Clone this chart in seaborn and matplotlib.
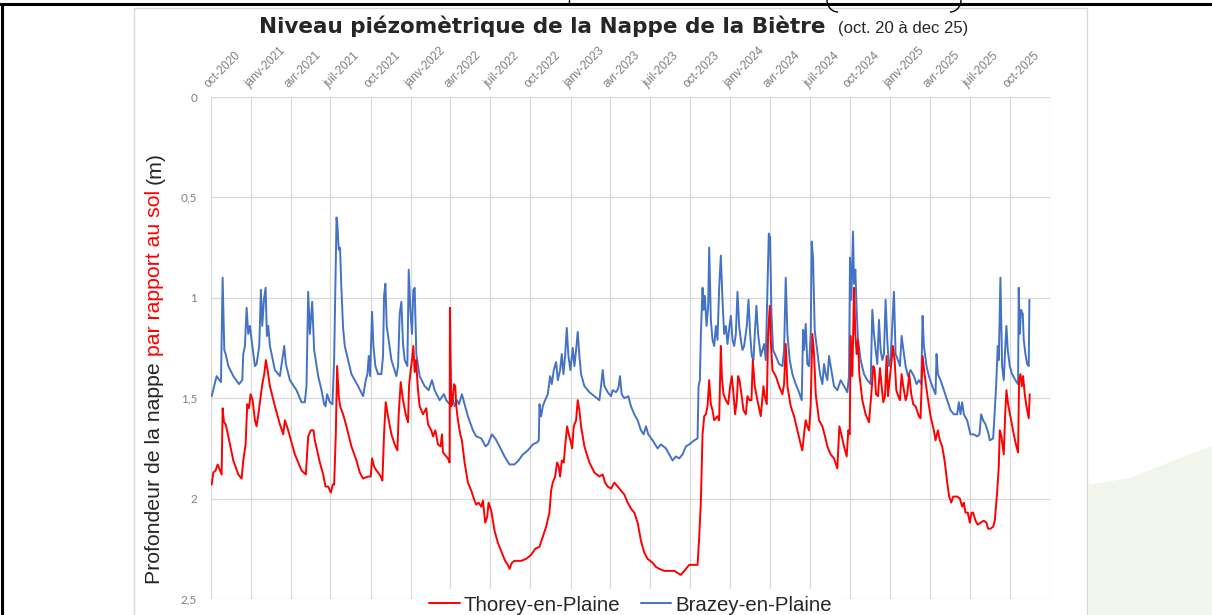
import numpy as np
import pandas as pd
import matplotlib
matplotlib.use("Agg")
import matplotlib.pyplot as plt
import matplotlib.patches as mpatches
from matplotlib.lines import Line2D
import seaborn as sns

# jours depuis le 1er oct. 2020, profondeur (m)
debut = "2020-10-01"

jours_thorey = [
    1.5, 5.3, 10.6, 15.2, 20.5, 24.3, 26.6, 29.7, 33.5, 39.6,
    51.0, 62.4, 70.0, 73.8, 79.1, 82.9, 86.7, 90.5, 95.1, 100.4,
    104.2, 109.5, 114.1, 117.2, 121.7, 125.5, 129.3, 134.7, 146.1, 157.5,
    165.1, 168.9, 176.5, 191.7, 207.0, 216.8, 222.2, 228.2, 234.3, 237.4,
    248.8, 256.4, 261.7, 267.8, 273.9, 278.5, 281.5, 285.3, 288.3, 292.1,
    295.2, 302.0, 309.6, 321.0, 332.5, 340.1, 347.7, 359.1, 365.2, 368.2,
    372.8, 378.1, 381.9, 388.0, 391.8, 395.6, 399.4, 404.7, 412.4, 420.0,
    426.1, 429.1, 433.7, 439.0, 445.1, 450.4, 452.7, 456.5, 459.5, 462.6,
    465.6, 468.7, 473.2, 477.0, 484.6, 492.2, 496.0, 503.6, 507.4, 512.8,
    518.9, 524.9, 528.0, 530.3, 534.1, 541.7, 545.5, 546.2, 549.3, 552.3,
    555.4, 558.4, 560.7, 564.5, 569.8, 573.6, 579.7, 587.3, 594.9, 602.5,
    606.3, 611.7, 617.8, 621.6, 626.9, 631.5, 634.5, 640.6, 648.2, 655.8,
    664.9, 672.5, 678.6, 682.4, 687.8, 693.8, 701.4, 709.1, 720.5, 731.9,
    741.0, 750.9, 758.5, 766.1, 773.7, 777.5, 781.3, 786.7, 791.2, 795.0,
    798.1, 801.9, 806.4, 809.5, 814.1, 817.9, 821.7, 825.5, 829.3, 834.6,
    838.4, 842.2, 846.0, 853.6, 865.0, 876.4, 887.9, 895.5, 900.8, 906.9,
    914.5, 922.1, 929.7, 937.3, 944.9, 952.5, 960.1, 967.7, 975.3, 982.9,
    990.5, 998.2, 1009.6, 1017.2, 1024.8, 1036.2, 1047.6, 1059.0, 1066.6, 1074.2,
    1081.8, 1093.3, 1104.7, 1112.3, 1116.1, 1119.9, 1123.7, 1127.5, 1131.3, 1135.1,
    1138.9, 1142.7, 1146.5, 1150.3, 1157.9, 1161.7, 1165.5, 1167.8, 1171.6, 1177.0,
    1182.3, 1186.8, 1190.6, 1193.7, 1198.2, 1202.0, 1205.1, 1208.1, 1212.7, 1217.3,
    1222.6, 1226.4, 1231.0, 1235.5, 1238.6, 1243.1, 1249.2, 1256.8, 1262.9, 1266.0,
    1270.5, 1273.6, 1277.4, 1279.7, 1283.5, 1291.1, 1298.7, 1306.3, 1310.1, 1313.9,
    1317.7, 1325.3, 1332.9, 1340.5, 1348.1, 1351.9, 1355.7, 1359.5, 1363.3, 1367.2,
    1371.0, 1374.8, 1378.6, 1382.4, 1390.0, 1397.6, 1403.7, 1409.0, 1416.6, 1424.2,
    1431.8, 1436.5, 1441.0, 1447.1, 1453.2, 1457.0, 1460.1, 1462.3, 1466.1, 1470.0,
    1473.0, 1476.0, 1479.1, 1482.1, 1489.0, 1496.6, 1504.2, 1509.5, 1514.1, 1517.1,
    1520.2, 1524.7, 1529.3, 1533.1, 1536.9, 1540.7, 1544.5, 1547.6, 1552.1, 1555.2,
    1559.0, 1562.8, 1566.6, 1571.1, 1574.9, 1578.7, 1582.5, 1587.9, 1591.7, 1596.2,
    1600.8, 1605.4, 1610.7, 1618.3, 1622.1, 1626.7, 1631.2, 1637.3, 1644.9, 1652.5,
    1656.3, 1661.7, 1666.2, 1671.6, 1677.6, 1683.0, 1687.5, 1692.1, 1696.7, 1705.8,
    1711.9, 1717.2, 1721.0, 1724.8, 1730.1, 1734.7, 1738.5, 1742.3, 1747.6, 1753.0,
    1759.0, 1766.6, 1772.7, 1776.6, 1781.9, 1788.0, 1791.8, 1797.1, 1800.9, 1803.2,
    1807.0, 1812.3, 1815.4, 1818.4, 1822.2, 1827.5, 1835.2, 1841.2, 1845.0, 1847.3,
    1850.4, 1853.4, 1856.4, 1860.3, 1864.1, 1869.4, 1871.7,
]
prof_thorey = [
    1.93, 1.87, 1.86, 1.83, 1.86, 1.88, 1.55, 1.62, 1.63, 1.69,
    1.81, 1.88, 1.90, 1.81, 1.73, 1.53, 1.55, 1.48, 1.51, 1.61,
    1.64, 1.56, 1.48, 1.43, 1.38, 1.31, 1.36, 1.44, 1.54, 1.63,
    1.68, 1.61, 1.66, 1.78, 1.86, 1.88, 1.69, 1.66, 1.66, 1.71,
    1.82, 1.88, 1.94, 1.94, 1.97, 1.93, 1.93, 1.68, 1.34, 1.49,
    1.54, 1.58, 1.64, 1.74, 1.81, 1.87, 1.90, 1.89, 1.89, 1.80,
    1.84, 1.86, 1.87, 1.89, 1.91, 1.68, 1.52, 1.59, 1.68, 1.73,
    1.76, 1.58, 1.42, 1.51, 1.58, 1.62, 1.44, 1.36, 1.31, 1.24,
    1.37, 1.31, 1.46, 1.54, 1.58, 1.55, 1.63, 1.66, 1.69, 1.66,
    1.73, 1.74, 1.68, 1.77, 1.78, 1.80, 1.82, 1.05, 1.54, 1.51,
    1.43, 1.44, 1.54, 1.61, 1.68, 1.71, 1.82, 1.92, 1.96, 2.01,
    2.03, 2.02, 2.04, 2.01, 2.12, 2.09, 2.02, 2.06, 2.16, 2.22,
    2.27, 2.31, 2.33, 2.35, 2.32, 2.31, 2.31, 2.31, 2.30, 2.28,
    2.25, 2.24, 2.19, 2.14, 2.07, 1.96, 1.92, 1.89, 1.82, 1.84,
    1.89, 1.81, 1.82, 1.74, 1.64, 1.68, 1.71, 1.75, 1.64, 1.61,
    1.51, 1.56, 1.64, 1.74, 1.82, 1.87, 1.89, 1.88, 1.92, 1.94,
    1.95, 1.92, 1.94, 1.96, 1.98, 2.02, 2.05, 2.07, 2.12, 2.21,
    2.27, 2.30, 2.32, 2.34, 2.35, 2.36, 2.36, 2.36, 2.37, 2.38,
    2.36, 2.33, 2.33, 2.33, 2.19, 2.01, 1.68, 1.59, 1.58, 1.54,
    1.41, 1.53, 1.56, 1.61, 1.59, 1.61, 1.24, 1.39, 1.48, 1.51,
    1.53, 1.44, 1.39, 1.46, 1.58, 1.51, 1.39, 1.41, 1.48, 1.56,
    1.58, 1.49, 1.51, 1.51, 1.31, 1.44, 1.51, 1.59, 1.44, 1.49,
    1.53, 1.18, 1.04, 1.21, 1.36, 1.39, 1.44, 1.48, 1.43, 1.23,
    1.44, 1.54, 1.59, 1.66, 1.73, 1.76, 1.68, 1.61, 1.64, 1.66,
    1.53, 1.18, 1.28, 1.48, 1.61, 1.64, 1.69, 1.74, 1.78, 1.80,
    1.85, 1.64, 1.68, 1.74, 1.79, 1.66, 1.68, 1.19, 1.39, 0.95,
    1.18, 1.28, 1.21, 1.38, 1.51, 1.58, 1.62, 1.48, 1.34, 1.36,
    1.48, 1.49, 1.35, 1.44, 1.52, 1.49, 1.29, 1.49, 1.39, 1.33,
    1.24, 1.31, 1.46, 1.49, 1.51, 1.38, 1.44, 1.51, 1.48, 1.38,
    1.48, 1.53, 1.54, 1.59, 1.60, 1.29, 1.38, 1.48, 1.59, 1.66,
    1.71, 1.66, 1.71, 1.74, 1.82, 1.92, 1.99, 2.02, 1.99, 1.99,
    2.00, 2.04, 2.02, 2.07, 2.07, 2.12, 2.07, 2.07, 2.11, 2.13,
    2.12, 2.11, 2.12, 2.15, 2.15, 2.14, 2.11, 1.97, 1.84, 1.66,
    1.69, 1.78, 1.59, 1.46, 1.53, 1.59, 1.68, 1.74, 1.77, 1.41,
    1.38, 1.44, 1.39, 1.48, 1.54, 1.60, 1.48,
]

jours_brazey = [
    1.5, 12.9, 22.8, 26.6, 30.4, 33.5, 39.6, 51.0, 63.9, 71.5,
    73.8, 77.6, 81.4, 85.2, 89.0, 92.8, 100.4, 104.2, 110.3, 114.1,
    117.2, 121.0, 124.8, 127.8, 130.9, 134.7, 146.1, 157.5, 162.8, 167.4,
    171.2, 180.3, 195.5, 207.0, 214.5, 218.3, 222.2, 226.0, 231.3, 235.8,
    245.0, 252.6, 258.7, 261.7, 265.5, 271.6, 277.7, 281.5, 287.0, 289.0,
    292.0, 295.0, 298.0, 302.0, 305.8, 321.0, 336.3, 347.7, 353.8, 357.6,
    360.6, 363.7, 368.2, 371.3, 375.8, 381.9, 389.5, 393.3, 395.6, 398.7,
    401.7, 412.4, 423.8, 427.6, 431.4, 435.2, 439.0, 442.8, 448.9, 452.0,
    455.7, 459.5, 462.6, 465.6, 469.4, 477.0, 488.4, 497.6, 505.2, 511.2,
    522.7, 532.5, 537.9, 545.5, 550.8, 556.9, 562.2, 566.8, 573.6, 579.7,
    587.3, 598.7, 606.3, 617.8, 627.7, 633.0, 642.1, 649.7, 659.6, 671.0,
    682.4, 693.8, 703.0, 712.9, 724.3, 735.7, 745.6, 749.4, 750.9, 754.7,
    758.5, 763.8, 769.9, 775.3, 779.1, 783.6, 789.0, 792.8, 798.1, 801.9,
    805.7, 809.5, 813.3, 817.1, 821.7, 827.0, 830.8, 834.6, 838.4, 842.2,
    846.0, 853.6, 865.0, 876.4, 887.9, 891.6, 895.5, 899.3, 906.9, 914.5,
    918.3, 925.9, 931.2, 935.0, 938.8, 944.9, 954.0, 960.1, 967.7, 975.3,
    982.9, 989.0, 994.4, 999.7, 1009.6, 1021.0, 1028.6, 1040.0, 1047.6, 1055.2,
    1062.8, 1070.4, 1078.0, 1085.7, 1093.3, 1104.7, 1112.3, 1114.6, 1117.6, 1119.9,
    1123.7, 1126.0, 1129.0, 1132.8, 1136.6, 1138.9, 1142.7, 1146.5, 1150.3, 1154.1,
    1157.9, 1161.7, 1165.5, 1169.3, 1173.1, 1177.0, 1180.7, 1185.3, 1188.4, 1192.2,
    1196.0, 1199.8, 1203.6, 1207.4, 1211.2, 1215.0, 1218.8, 1224.9, 1228.7, 1232.5,
    1236.3, 1240.1, 1243.1, 1246.9, 1250.7, 1256.8, 1264.4, 1268.2, 1272.0, 1275.1,
    1278.1, 1281.2, 1285.0, 1291.1, 1298.7, 1306.3, 1310.1, 1313.9, 1317.7, 1323.0,
    1329.1, 1336.7, 1344.3, 1350.4, 1353.5, 1355.7, 1359.5, 1363.3, 1367.2, 1371.0,
    1373.2, 1376.3, 1380.1, 1384.6, 1392.3, 1397.6, 1401.4, 1405.2, 1409.0, 1412.8,
    1418.1, 1424.2, 1431.9, 1439.5, 1447.1, 1454.7, 1458.5, 1460.8, 1463.9, 1467.7,
    1470.0, 1473.0, 1476.0, 1479.1, 1485.2, 1492.8, 1500.4, 1508.0, 1511.8, 1515.6,
    1519.4, 1523.2, 1527.0, 1530.8, 1534.6, 1538.4, 1542.2, 1546.0, 1549.8, 1553.6,
    1557.4, 1561.2, 1565.0, 1570.4, 1574.9, 1578.8, 1584.1, 1587.9, 1593.2, 1599.3,
    1606.9, 1613.0, 1618.3, 1623.6, 1626.7, 1629.7, 1635.8, 1641.1, 1648.7, 1656.3,
    1658.6, 1661.7, 1667.8, 1675.4, 1683.0, 1690.6, 1698.2, 1705.8, 1709.6, 1713.4,
    1717.2, 1721.0, 1728.6, 1736.2, 1743.8, 1751.4, 1756.8, 1760.6, 1765.1, 1770.5,
    1776.6, 1780.4, 1788.0, 1791.0, 1794.8, 1798.6, 1800.9, 1804.7, 1808.5, 1812.3,
    1816.1, 1818.4, 1821.4, 1826.0, 1831.3, 1838.9, 1845.0, 1846.5, 1848.8, 1851.9,
    1855.7, 1858.0, 1861.8, 1865.6, 1869.4, 1870.9,
]
prof_brazey = [
    1.49, 1.39, 1.42, 0.90, 1.26, 1.28, 1.34, 1.39, 1.43, 1.41,
    1.28, 1.24, 1.05, 1.18, 1.14, 1.21, 1.34, 1.33, 1.24, 0.96,
    1.14, 1.01, 0.95, 1.19, 1.14, 1.24, 1.36, 1.39, 1.31, 1.24,
    1.33, 1.41, 1.46, 1.52, 1.52, 1.44, 0.97, 1.18, 1.02, 1.26,
    1.39, 1.46, 1.53, 1.54, 1.48, 1.52, 1.53, 1.31, 0.60, 0.64,
    0.76, 0.75, 0.95, 1.15, 1.24, 1.38, 1.44, 1.49, 1.41, 1.38,
    1.29, 1.39, 1.07, 1.24, 1.34, 1.38, 1.38, 1.29, 0.99, 0.93,
    1.14, 1.31, 1.39, 1.34, 1.08, 1.02, 1.23, 1.31, 1.34, 0.86,
    1.06, 1.18, 0.96, 0.95, 1.28, 1.39, 1.44, 1.46, 1.41, 1.46,
    1.51, 1.48, 1.51, 1.53, 1.49, 1.54, 1.51, 1.53, 1.48, 1.53,
    1.59, 1.66, 1.69, 1.70, 1.74, 1.73, 1.68, 1.70, 1.74, 1.79,
    1.83, 1.83, 1.81, 1.78, 1.76, 1.73, 1.72, 1.71, 1.53, 1.59,
    1.54, 1.51, 1.48, 1.39, 1.43, 1.36, 1.32, 1.41, 1.36, 1.28,
    1.38, 1.29, 1.15, 1.29, 1.36, 1.25, 1.34, 1.26, 1.17, 1.29,
    1.38, 1.44, 1.47, 1.49, 1.51, 1.44, 1.36, 1.44, 1.47, 1.49,
    1.46, 1.47, 1.45, 1.39, 1.48, 1.50, 1.49, 1.54, 1.58, 1.61,
    1.66, 1.68, 1.64, 1.68, 1.71, 1.75, 1.73, 1.75, 1.78, 1.81,
    1.79, 1.80, 1.78, 1.74, 1.73, 1.71, 1.70, 1.44, 1.41, 1.18,
    0.95, 1.06, 0.99, 1.14, 1.04, 0.75, 1.11, 1.21, 1.24, 1.14,
    1.21, 0.95, 0.79, 1.01, 1.18, 1.14, 1.23, 1.14, 1.09, 1.21,
    1.24, 1.18, 0.97, 1.14, 1.21, 1.26, 1.24, 1.14, 1.01, 1.18,
    1.29, 1.31, 1.18, 1.04, 1.18, 1.29, 1.23, 1.31, 0.96, 0.68,
    0.70, 1.08, 1.26, 1.29, 1.33, 1.34, 1.26, 0.90, 1.18, 1.31,
    1.38, 1.43, 1.47, 1.51, 1.16, 1.26, 1.13, 1.33, 1.34, 1.18,
    0.72, 0.80, 1.16, 1.24, 1.38, 1.43, 1.33, 1.38, 1.41, 1.29,
    1.36, 1.44, 1.46, 1.41, 1.44, 1.47, 1.39, 0.80, 1.01, 0.67,
    0.93, 0.86, 1.06, 1.21, 1.31, 1.38, 1.41, 1.43, 1.06, 1.18,
    1.26, 1.33, 1.11, 1.26, 1.31, 1.28, 1.01, 1.21, 1.34, 1.31,
    1.14, 0.97, 1.28, 1.31, 1.34, 1.19, 1.28, 1.34, 1.39, 1.36,
    1.39, 1.43, 1.41, 1.43, 1.09, 1.24, 1.34, 1.39, 1.44, 1.48,
    1.28, 1.38, 1.41, 1.46, 1.51, 1.56, 1.58, 1.58, 1.52, 1.58,
    1.52, 1.58, 1.61, 1.68, 1.68, 1.69, 1.68, 1.58, 1.61, 1.63,
    1.67, 1.71, 1.70, 1.59, 1.44, 1.24, 1.31, 0.90, 1.34, 1.41,
    1.23, 1.14, 1.26, 1.34, 1.38, 1.41, 1.43, 0.95, 1.18, 1.06,
    1.08, 1.21, 1.28, 1.33, 1.34, 1.01,
]

stations = ["Thorey-en-Plaine", "Brazey-en-Plaine"]
couleurs = ["#ff0000", "#4472c4"]
mois = ["oct-2020", "janv-2021", "avr-2021", "juil-2021", "oct-2021", "janv-2022",
        "avr-2022", "juil-2022", "oct-2022", "janv-2023", "avr-2023", "juil-2023",
        "oct-2023", "janv-2024", "avr-2024", "juil-2024", "oct-2024", "janv-2025",
        "avr-2025", "juil-2025", "oct-2025", ""]
yticks = [0, 0.5, 1, 1.5, 2, 2.5]
ylabels = ["0", "0,5", "1", "1,5", "2", "2,5"]

t0 = pd.Timestamp(debut)
df = pd.concat([
    pd.DataFrame({"date": t0 + pd.to_timedelta(jours_thorey, unit="D"),
                  "prof": prof_thorey, "station": stations[0]}),
    pd.DataFrame({"date": t0 + pd.to_timedelta(jours_brazey, unit="D"),
                  "prof": prof_brazey, "station": stations[1]}),
], ignore_index=True)

sns.set_style("white")
plt.rcParams["font.family"] = ["Liberation Sans", "DejaVu Sans"]
narrow = ["Liberation Sans Narrow", "Liberation Sans", "DejaVu Sans"]

W, H = 1212, 615
fig = plt.figure(figsize=(W / 100, H / 100), dpi=100)
ax = fig.add_axes([211 / W, 1 - 599 / H, (1050 - 211) / W, (599 - 97) / H])

# bleu d'abord pour que le rouge passe devant
sns.lineplot(data=df, x="date", y="prof", hue="station",
             hue_order=stations[::-1], palette=dict(zip(stations, couleurs)),
             estimator=None, sort=False, linewidth=1.4, ax=ax)

ax.set_ylim(2.5, 0)
ax.set_xlim(t0, pd.Timestamp("2026-01-01"))
ax.set_yticks(yticks)
ax.set_yticklabels(ylabels, color="#7f7f7f", fontsize=8.5, family=["Lato", "DejaVu Sans"])
ticks = pd.date_range(debut, "2026-01-01", freq="QS")
ax.set_xticks(ticks)
ax.set_xticklabels(mois, rotation=45, ha="left", va="bottom",
                   rotation_mode="anchor", color="#7f7f7f", fontsize=8.5,
                   family=narrow)
ax.xaxis.tick_top()
ax.tick_params(axis="both", length=0)
ax.tick_params(axis="y", pad=10)
ax.tick_params(axis="x", pad=5)
ax.grid(True, color="#d9d9d9", linewidth=0.9)
for s in ax.spines.values():
    s.set_visible(False)
ax.set_xlabel("")
ax.set_ylabel("")

h, l = ax.get_legend_handles_labels()
leg = ax.legend(h[::-1], l[::-1], loc="center", bbox_to_anchor=(0.5, -0.012),
                ncol=2, frameon=True, fontsize=14.7, handlelength=1.5,
                handletextpad=0.2, columnspacing=1.0, borderpad=0.3,
                fancybox=False)
leg.get_frame().set_facecolor("white")
leg.get_frame().set_edgecolor("white")
leg.get_frame().set_alpha(1)

# titre : partie grasse + partie normale
fig.text(259 / W, 1 - 33 / H, "Niveau piézomètrique de la Nappe de la Biètre",
         fontsize=15.5, fontweight="bold", family=["DejaVu Sans"],
         ha="left", va="baseline")
fig.text(838 / W, 1 - 33 / H, "(oct. 20 à dec 25)", fontsize=12, family=narrow,
         ha="left", va="baseline")

# titre de l'axe y en trois morceaux
y1 = fig.text(155 / W, 1 - 584 / H, "Profondeur de la nappe", rotation=90,
              ha="center", va="bottom", fontsize=15.3)
y2 = ax.annotate("par rapport au sol", xy=(0.5, 1), xycoords=y1, xytext=(0, 4.2),
                 textcoords="offset points", rotation=90, ha="center", va="bottom",
                 fontsize=15.3, color="red", annotation_clip=False)
ax.annotate("(m)", xy=(0.5, 1), xycoords=y2, xytext=(0, 4.2),
            textcoords="offset points", rotation=90, ha="center", va="bottom",
            fontsize=15.3, annotation_clip=False)

# cadre du graphique et bordures de la diapositive
fig.add_artist(mpatches.Rectangle((134 / W, -0.01), (1087 - 134) / W, 1 - 8 / H + 0.01,
                                  transform=fig.transFigure, fill=False,
                                  edgecolor="#d9d9d9", linewidth=1))
fig.add_artist(Line2D([0, 1], [1 - 4 / H] * 2, color="black", linewidth=2.2))
fig.add_artist(Line2D([1.5 / W] * 2, [0, 1 - 4 / H], color="black", linewidth=2.2))
fig.add_artist(Line2D([569 / W] * 2, [1 - 4 / H, 1], color="black", linewidth=1))
# bas des parenthèses de la diapositive au-dessus
fig.add_artist(mpatches.Arc((838 / W, 1), 22 / W, 24 / H, theta1=180, theta2=270,
                            transform=fig.transFigure, color="black", linewidth=1))
fig.add_artist(mpatches.Arc((950 / W, 1), 22 / W, 24 / H, theta1=270, theta2=360,
                            transform=fig.transFigure, color="black", linewidth=1))

# logo en filigrane
fig.add_artist(mpatches.Polygon(
    [(1088 / W, 1 - 485 / H), (1130 / W, 1 - 478 / H), (1170 / W, 1 - 462 / H),
     (1212 / W, 1 - 446 / H), (1212 / W, 0), (1088 / W, 0)],
    closed=True, transform=fig.transFigure, facecolor="#f1f5ec", edgecolor="none"))

fig.savefig("out.png", dpi=100, facecolor="white")
